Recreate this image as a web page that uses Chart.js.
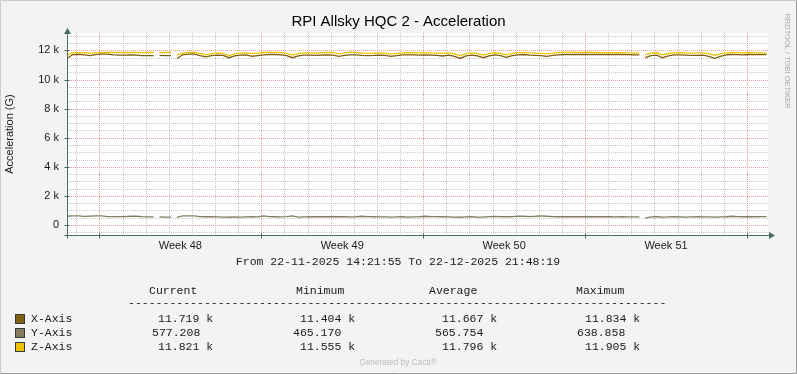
<!DOCTYPE html>
<html><head><meta charset="utf-8">
<script src="https://cdn.jsdelivr.net/npm/chart.js@4.4.1/dist/chart.umd.min.js"></script>
<style>html,body{margin:0;padding:0;background:#F3F3F3;overflow:hidden}canvas{display:block}</style>
</head><body>
<canvas id="c" width="797" height="374"></canvas>
<script>
// ---------- data ----------
const titleText = 'RPI Allsky HQC 2 - Acceleration';
const yAxisTitle = 'Acceleration (G)';
const sideText = 'RRDTOOL / TOBI OETIKER';
const footerText = 'Generated by Cacti®';
const rangeText = 'From 22-11-2025 14:21:55 To 22-12-2025 21:48:19';
const startTime = Date.UTC(2025, 10, 22, 14, 21, 55);
const endTime = Date.UTC(2025, 11, 22, 21, 48, 19);
const stepHours = 6;
const gapHours = [93, 111, 597];
const weekLabels = ['Week 48', 'Week 49', 'Week 50', 'Week 51'];
const yTickValues = [0, 2000, 4000, 6000, 8000, 10000, 12000];
const yTickLabels = ['0', '2 k', '4 k', '6 k', '8 k', '10 k', '12 k'];
const yMin = -690, yMax = 13200, yMinorStep = 500;
const seriesNames = ['X-Axis', 'Y-Axis', 'Z-Axis'];
const statHeaders = ['Current', 'Minimum', 'Average', 'Maximum'];
const xStats = ['11.719 k', '11.404 k', '11.667 k', '11.834 k'];
const yStats = ['577.208', '465.170', '565.754', '638.858'];
const zStats = ['11.821 k', '11.555 k', '11.796 k', '11.905 k'];

const xAxisValues = [11450,11720,11740,11700,11650,11720,11760,11750,11700,11680,
 11680,11690,11680,11650,11650,11650,11660,11650,11650,11450,
 11700,11750,11760,11650,11560,11640,11680,11660,11500,11620,
 11680,11690,11600,11650,11700,11720,11720,11700,11640,11500,
 11620,11680,11680,11660,11680,11700,11680,11600,11660,11700,
 11690,11660,11650,11660,11680,11660,11590,11650,11690,11700,
 11690,11680,11690,11680,11660,11620,11680,11590,11450,11620,
 11680,11620,11500,11620,11700,11640,11520,11640,11700,11720,
 11680,11660,11640,11590,11660,11700,11720,11730,11720,11720,
 11720,11720,11720,11720,11720,11720,11720,11710,11690,11700,
 11500,11640,11680,11500,11620,11690,11700,11680,11660,11660,
 11680,11600,11460,11600,11690,11720,11710,11700,11720,11710,
 11720,11719];
const yAxisValues = [600,620,620,590,610,630,630,570,570,570,
 575,610,600,570,560,560,560,540,540,520,
 620,630,630,570,565,565,560,540,530,560,
 540,560,580,560,620,570,565,560,570,620,
 540,560,565,565,565,565,565,565,565,560,
 565,600,570,565,560,560,540,560,565,540,
 560,565,600,570,570,565,560,540,530,560,
 565,540,545,570,590,570,565,570,610,600,
 580,600,630,600,570,565,565,565,565,565,
 565,565,565,565,565,560,565,560,560,560,
 470,550,565,540,560,565,560,545,560,565,
 560,560,540,560,565,600,570,565,565,565,
 570,577.208];
const zAxisValues = [11700,11830,11850,11850,11800,11840,11870,11860,11860,11860,
 11860,11870,11860,11850,11860,11860,11860,11870,11860,11700,
 11820,11860,11870,11800,11700,11780,11820,11800,11650,11760,
 11820,11830,11780,11820,11860,11880,11870,11850,11800,11680,
 11780,11830,11840,11820,11840,11860,11850,11770,11830,11880,
 11860,11820,11800,11820,11840,11820,11750,11800,11840,11850,
 11840,11830,11840,11830,11820,11800,11830,11760,11650,11780,
 11830,11780,11680,11780,11840,11800,11700,11800,11850,11870,
 11840,11820,11800,11760,11820,11850,11880,11890,11870,11860,
 11880,11860,11860,11850,11850,11850,11850,11840,11820,11830,
 11720,11810,11840,11700,11790,11840,11850,11830,11820,11830,
 11840,11780,11660,11770,11840,11860,11850,11840,11860,11840,
 11830,11821];

// ---------- derived time positions (hours from start) ----------
const HOUR = 3600000;
const totalHours = (endTime - startTime) / HOUR;
const dayLines = [];   // {h, major}
{
  const s = new Date(startTime);
  let d = Date.UTC(s.getUTCFullYear(), s.getUTCMonth(), s.getUTCDate() + 1);
  while (d < endTime) {
    dayLines.push({ h: (d - startTime) / HOUR, major: new Date(d).getUTCDay() === 1 });
    d += 24 * HOUR;
  }
}
const weekCenters = dayLines.filter(l => l.major).map(l => l.h + 84).filter(h => h < totalHours);

const toPts = arr => arr.map((v, i) => ({ x: i * stepHours, y: v }))
  .concat(gapHours.map(h => ({ x: h, y: null })))
  .sort((p, q) => p.x - q.x);

// ---------- styles ----------
const colX = '#7E5E10', colY = '#857C60', colZ = '#ECC200';
const axisCol = '#4B6B5E';
const textCol = '#1a1a1a';
const sans = '"Liberation Sans", Arial, sans-serif';
const mono = '"Liberation Mono", "Courier New", monospace';

const decor = {
  id: 'decor',
  beforeDraw(chart) {
    const ctx = chart.ctx, a = chart.chartArea;
    ctx.save();
    ctx.fillStyle = '#F3F3F3';
    ctx.fillRect(0, 0, 797, 374);
    ctx.strokeStyle = '#CBCBCB';
    ctx.beginPath(); ctx.moveTo(0.5, 373); ctx.lineTo(0.5, 0.5); ctx.lineTo(796, 0.5); ctx.stroke();
    ctx.strokeStyle = '#999999';
    ctx.beginPath(); ctx.moveTo(796.5, 0.5); ctx.lineTo(796.5, 373.5); ctx.lineTo(0.5, 373.5); ctx.stroke();
    ctx.fillStyle = '#FFFFFF';
    ctx.fillRect(a.left, a.top, a.right - a.left, a.bottom - a.top);
    ctx.restore();
  },
  beforeDatasetsDraw(chart) {
    const ctx = chart.ctx, a = chart.chartArea, xs = chart.scales.x, ys = chart.scales.y;
    ctx.save();
    ctx.lineWidth = 1;
    ctx.setLineDash([1, 1]);
    for (let v = Math.ceil(yMin / yMinorStep) * yMinorStep; v <= yMax; v += yMinorStep) {
      const major = v % 2000 === 0;
      const y = Math.round(ys.getPixelForValue(v)) + 0.5;
      ctx.strokeStyle = major ? '#EE9A9A' : '#C8C8C8';
      ctx.beginPath(); ctx.moveTo(a.left, y); ctx.lineTo(a.right, y); ctx.stroke();
    }
    dayLines.forEach(l => {
      const x = Math.round(xs.getPixelForValue(l.h)) + 0.5;
      ctx.strokeStyle = l.major ? '#EE9A9A' : '#C8C8C8';
      ctx.beginPath(); ctx.moveTo(x, a.top); ctx.lineTo(x, a.bottom); ctx.stroke();
    });
    ctx.restore();
  },
  afterDatasetsDraw(chart) {
    const ctx = chart.ctx, a = chart.chartArea, xs = chart.scales.x, ys = chart.scales.y;
    ctx.save();
    ctx.strokeStyle = axisCol; ctx.fillStyle = axisCol; ctx.lineWidth = 1;
    const x0 = Math.round(a.left) + 0.5, y0 = Math.round(a.bottom) + 0.5;
    ctx.beginPath(); ctx.moveTo(x0 - 3, y0); ctx.lineTo(a.right + 3, y0); ctx.stroke();
    ctx.beginPath(); ctx.moveTo(x0, y0 + 3); ctx.lineTo(x0, a.top - 2); ctx.stroke();
    ctx.beginPath(); ctx.moveTo(a.right + 7, y0); ctx.lineTo(a.right + 1, y0 - 3.5); ctx.lineTo(a.right + 1, y0 + 3.5); ctx.closePath(); ctx.fill();
    ctx.beginPath(); ctx.moveTo(x0, a.top - 5); ctx.lineTo(x0 - 3.5, a.top + 1); ctx.lineTo(x0 + 3.5, a.top + 1); ctx.closePath(); ctx.fill();
    dayLines.filter(l => l.major).forEach(l => {
      const x = Math.round(xs.getPixelForValue(l.h)) + 0.5;
      ctx.beginPath(); ctx.moveTo(x, y0 - 2); ctx.lineTo(x, y0 + 3); ctx.stroke();
    });
    yTickValues.forEach(v => {
      const y = Math.round(ys.getPixelForValue(v)) + 0.5;
      ctx.beginPath(); ctx.moveTo(x0 - 3, y); ctx.lineTo(x0 + 2, y); ctx.stroke();
    });
    ctx.restore();
  },
  afterDraw(chart) {
    const ctx = chart.ctx, a = chart.chartArea;
    ctx.save();
    ctx.fillStyle = '#000';
    ctx.textBaseline = 'middle';
    ctx.textAlign = 'center';
    ctx.font = '15px ' + sans;
    ctx.fillText(titleText, 398.5, 22);
    ctx.save();
    ctx.translate(10, (a.top + a.bottom) / 2);
    ctx.rotate(-Math.PI / 2);
    ctx.font = '11px ' + sans;
    ctx.fillStyle = textCol;
    ctx.fillText(yAxisTitle, 0, 0);
    ctx.restore();
    ctx.save();
    ctx.translate(787, 61);
    ctx.rotate(Math.PI / 2);
    ctx.font = '7.5px ' + sans;
    ctx.fillStyle = '#ABABAB';
    ctx.fillText(sideText, 0, 0);
    ctx.restore();
    ctx.font = '11.5px ' + mono;
    ctx.fillStyle = textCol;
    ctx.fillText(rangeText, 398, 262);
    ctx.textAlign = 'left';
    const hdrX = [149, 296, 429, 576];
    statHeaders.forEach((t, i) => ctx.fillText(t, hdrX[i], 291));
    ctx.fillText('-'.repeat(78), 128, 303);
    const rowsY = [319, 333, 347];
    const cols = [colX, colY, colZ];
    const stats = [xStats, yStats, zStats];
    const kX = [158, 300, 442, 585];
    const plainX = [152, 293, 435, 577];
    seriesNames.forEach((n, r) => {
      ctx.fillStyle = cols[r];
      ctx.fillRect(16, rowsY[r] - 4, 8, 8);
      ctx.strokeStyle = '#2F3F38'; ctx.lineWidth = 1;
      ctx.strokeRect(15.5, rowsY[r] - 4.5, 9, 9);
      ctx.fillStyle = textCol;
      ctx.fillText(n, 31, rowsY[r]);
      stats[r].forEach((s, i) => {
        const x = s.endsWith('k') ? kX[i] : plainX[i];
        ctx.fillText(s, x, rowsY[r]);
      });
    });
    ctx.textAlign = 'center';
    ctx.font = '8.3px ' + sans;
    ctx.fillStyle = '#BDBDBD';
    ctx.fillText(footerText, 398, 363);
    ctx.restore();
  }
};

new Chart(document.getElementById('c'), {
  type: 'line',
  data: {
    datasets: [
      { label: seriesNames[0], data: toPts(xAxisValues), borderColor: colX, order: 3 },
      { label: seriesNames[1], data: toPts(yAxisValues), borderColor: colY, order: 2 },
      { label: seriesNames[2], data: toPts(zAxisValues), borderColor: colZ, order: 1 }
    ]
  },
  options: {
    responsive: false,
    animation: false,
    devicePixelRatio: 1,
    spanGaps: false,
    layout: { padding: { left: 0, top: 33, right: 29, bottom: 115 } },
    plugins: { legend: { display: false }, tooltip: { enabled: false }, title: { display: false } },
    elements: { point: { radius: 0 }, line: { tension: 0, borderWidth: 1.3, fill: false } },
    scales: {
      x: {
        type: 'linear', min: 0, max: totalHours,
        grid: { display: false, drawTicks: false }, border: { display: false },
        afterFit: s => { s.height = 24; },
        afterBuildTicks: s => { s.ticks = weekCenters.map(v => ({ value: v })); },
        ticks: {
          autoSkip: false, maxRotation: 0, minRotation: 0, padding: 4, color: textCol,
          font: { family: sans, size: 11 },
          callback: (v, i) => weekLabels[i] || ''
        }
      },
      y: {
        type: 'linear', min: yMin, max: yMax,
        grid: { display: false, drawTicks: false }, border: { display: false },
        afterFit: s => { s.width = 67; },
        afterBuildTicks: s => { s.ticks = yTickValues.map(v => ({ value: v })); },
        ticks: {
          padding: 8, color: textCol, font: { family: sans, size: 11 },
          callback: v => yTickLabels[yTickValues.indexOf(v)]
        }
      }
    }
  },
  plugins: [decor]
});
</script>
</body></html>
